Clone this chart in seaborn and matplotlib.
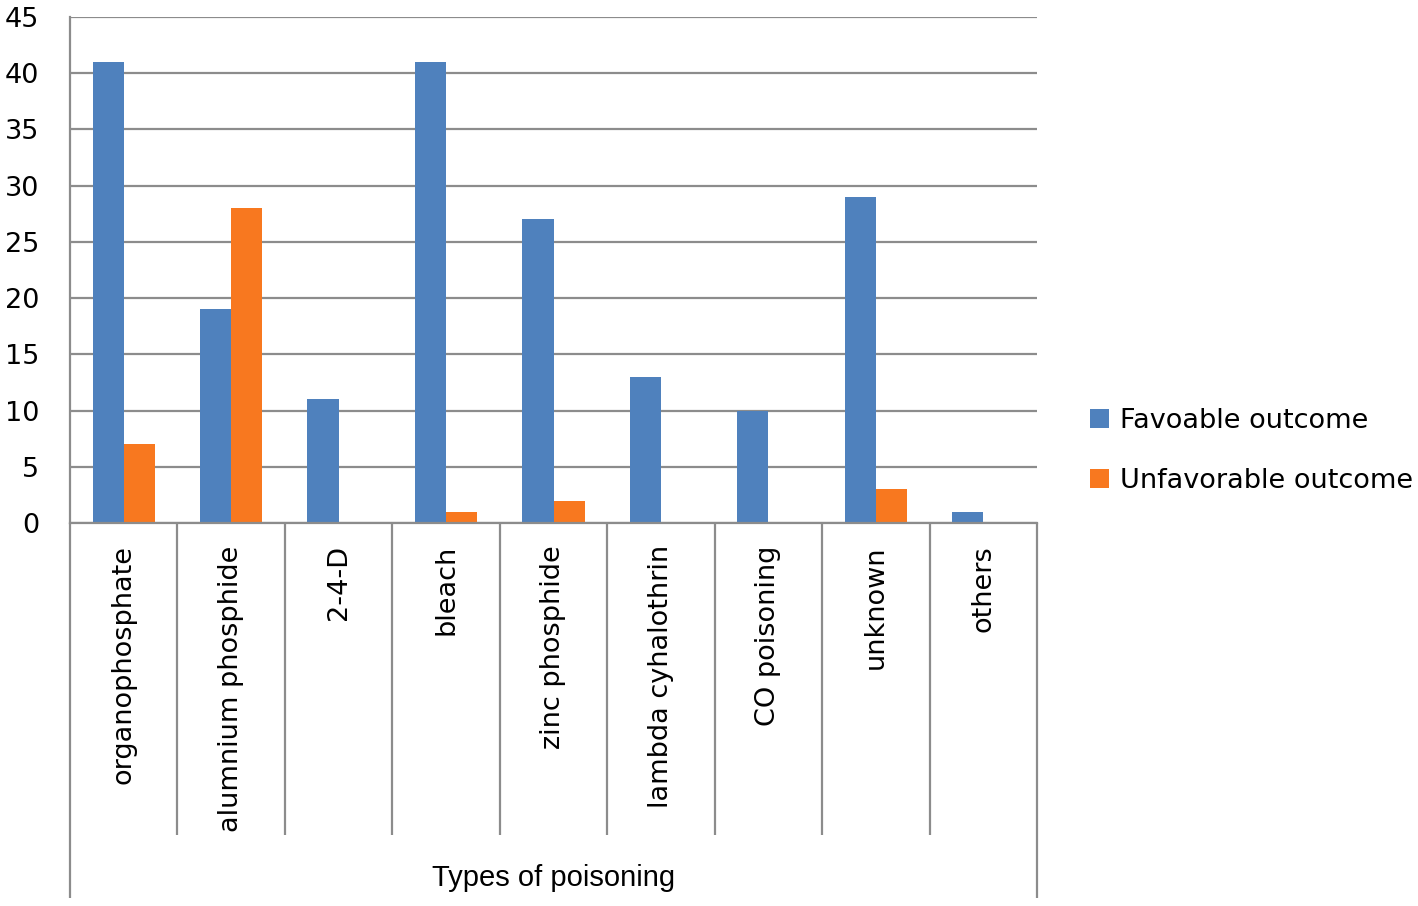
import pandas as pd
import matplotlib
matplotlib.use("Agg")
import matplotlib.pyplot as plt
import matplotlib.transforms as mtransforms
import seaborn as sns

# Data
categories = ["organophosphate", "alumnium phosphide", "2-4-D", "bleach",
              "zinc phosphide", "lambda cyhalothrin", "CO poisoning",
              "unknown", "others"]
favorable = [41, 19, 11, 41, 27, 13, 10, 29, 1]
unfavorable = [7, 28, 0, 1, 2, 0, 0, 3, 0]
series_names = ["Favoable outcome", "Unfavorable outcome"]
y_ticks = [0, 5, 10, 15, 20, 25, 30, 35, 40, 45]

df = pd.DataFrame({
    "category": categories * 2,
    "value": favorable + unfavorable,
    "series": [series_names[0]] * len(categories) + [series_names[1]] * len(categories),
})

sns.set_style("white")
plt.rcParams['font.family'] = ['DejaVu Sans']
plt.rcParams['text.color'] = 'black'
plt.rcParams['xtick.color'] = 'black'
plt.rcParams['ytick.color'] = 'black'

grey = "#8c8c8c"
palette = {series_names[0]: "#4F81BD", series_names[1]: "#F8781F"}

fig = plt.figure(figsize=(14.18, 9.06), dpi=100)
ax = fig.add_axes([70 / 1418, 1 - 523 / 906, (1037 - 70) / 1418, (523 - 17) / 906])

sns.barplot(data=df, x="category", y="value", hue="series", palette=palette,
            order=categories, hue_order=series_names, width=0.58,
            saturation=1, linewidth=0, ax=ax, legend=True)

ax.set_ylim(0, 45)
ax.set_xlim(-0.5, len(categories) - 0.5)
ax.set_yticks(y_ticks)
ax.set_yticklabels([str(t) for t in y_ticks], fontsize=19.5)
ax.yaxis.grid(True, color=grey, linewidth=1.6)
ax.set_axisbelow(True)
ax.tick_params(axis="y", length=7, width=1.6, color=grey, pad=15, labelcolor="black")
ax.tick_params(axis="x", length=0, pad=16, labelcolor="black")
ax.set_xticks(range(len(categories)))
ax.set_xticklabels(categories, rotation=90, fontsize=19.5, va="top", ha="center")

for s in ["top", "right"]:
    ax.spines[s].set_visible(False)
ax.spines["left"].set_color(grey)
ax.spines["left"].set_linewidth(1.6)
ax.spines["bottom"].set_color(grey)
ax.spines["bottom"].set_linewidth(1.6)
ax.spines["bottom"].set_zorder(5)

# category divider lines below the axis (Excel style)
trans = mtransforms.blended_transform_factory(ax.transData, ax.transAxes)
px = 1 / ((523 - 17))
for i in range(len(categories) + 1):
    xb = i - 0.5
    low = -(898 - 523) * px if i in (0, len(categories)) else -(835 - 523) * px
    ax.plot([xb, xb], [0, low], transform=trans, color=grey, lw=1.6,
            clip_on=False, solid_capstyle="butt")

ax.set_xlabel("")
ax.set_ylabel("")
fig.text(554 / 1418, 1 - 878 / 906, "Types of poisoning", ha="center",
         va="center", fontsize=21,
         family=["Liberation Sans Narrow", "Liberation Sans"])

leg = ax.legend(loc="center left", bbox_to_anchor=(1.0435, 0.143), frameon=False,
                fontsize=19.5, handlelength=0.7, handleheight=0.7,
                handletextpad=0.4, labelspacing=1.25, borderaxespad=0)

fig.savefig("out.png", dpi=100)
